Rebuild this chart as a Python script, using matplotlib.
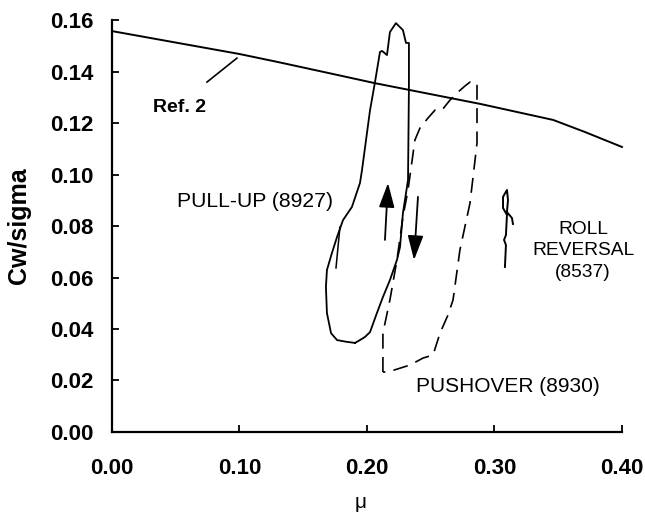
import numpy as np
import matplotlib
matplotlib.use("Agg")
from matplotlib import pyplot as plt

plt.rcParams['font.family'] = ['Liberation Sans', 'DejaVu Sans']

# Ref. 2 boundary
ref_mu = [0.0, 0.10, 0.13, 0.17, 0.206, 0.289, 0.346, 0.371, 0.40]
ref_cw = [0.1557, 0.1468, 0.1437, 0.1394, 0.1355, 0.1274, 0.1212, 0.1165, 0.1107]

# pull-up (8927), solid loop
pull_mu = [0.1906, 0.1843, 0.1765, 0.1718, 0.1686, 0.1678, 0.1686, 0.1725, 0.1765,
           0.1812, 0.1882, 0.1945, 0.1961, 0.2024, 0.2063, 0.2102, 0.2118, 0.2157,
           0.2180, 0.2227, 0.2282, 0.2306, 0.2329, 0.2329, 0.2322, 0.2282, 0.2259,
           0.2235, 0.2180, 0.2125, 0.2078, 0.2024, 0.1984, 0.1945, 0.1906]
pull_cw = [0.0346, 0.0350, 0.0357, 0.0384, 0.0462, 0.0563, 0.0629, 0.0695, 0.0757,
           0.0823, 0.0874, 0.0967, 0.1017, 0.1250, 0.1359, 0.1476, 0.1480, 0.1464,
           0.1553, 0.1588, 0.1561, 0.1511, 0.1511, 0.1340, 0.0979, 0.0850, 0.0718,
           0.0668, 0.0590, 0.0524, 0.0462, 0.0388, 0.0369, 0.0357, 0.0346]
pull_tail_mu = [0.1788, 0.1757]
pull_tail_cw = [0.0796, 0.0637]

# pushover (8930), dashed loop
push_mu = [0.2125, 0.2125, 0.2180, 0.2235, 0.2282, 0.2322, 0.2376, 0.2416, 0.2478,
           0.2533, 0.2588, 0.2651, 0.2714, 0.2769, 0.2808, 0.2863, 0.2863, 0.2808,
           0.2729, 0.2675, 0.2635, 0.2573, 0.2518, 0.2439, 0.2337, 0.2165, 0.2125]
push_cw = [0.0233, 0.0384, 0.0513, 0.0668, 0.0835, 0.0940, 0.1134, 0.1181, 0.1219,
           0.1250, 0.1250, 0.1289, 0.1320, 0.1344, 0.1359, 0.1355, 0.1122, 0.0889,
           0.0707, 0.0513, 0.0454, 0.0384, 0.0299, 0.0287, 0.0260, 0.0233, 0.0233]

# roll reversal (8537)
roll_mu = [0.3082, 0.3090, 0.3075, 0.3090, 0.3098, 0.3067, 0.3067, 0.3098, 0.3106,
           0.3098, 0.3137, 0.3145]
roll_cw = [0.0641, 0.0726, 0.0746, 0.0765, 0.0843, 0.0870, 0.0913, 0.0940, 0.0901,
           0.0854, 0.0831, 0.0808]

x_ticks = [0.0, 0.1, 0.2, 0.3, 0.4]
y_ticks = [0.0, 0.02, 0.04, 0.06, 0.08, 0.10, 0.12, 0.14, 0.16]

fig = plt.figure(figsize=(6.45, 5.16), dpi=100)
ax = fig.add_axes([0.1736, 0.1628, 0.7907, 0.7984])

ax.plot(ref_mu, ref_cw, color='black', lw=1.4, clip_on=False)
ax.plot(pull_mu, pull_cw, color='black', lw=1.3)
ax.plot(pull_tail_mu, pull_tail_cw, color='black', lw=1.1)
ax.plot(push_mu, push_cw, color='black', lw=1.2, dashes=(9, 5))
ax.plot(roll_mu, roll_cw, color='black', lw=1.4)

# direction arrows
arrow = dict(arrowstyle='-|>,head_length=0.75,head_width=0.24', color='black',
             lw=1.3, mutation_scale=20, shrinkA=0, shrinkB=0)
ax.annotate('', xy=(0.2165, 0.0967), xytext=(0.2141, 0.0746), arrowprops=arrow)
ax.annotate('', xy=(0.2369, 0.0668), xytext=(0.2400, 0.0913), arrowprops=arrow)

# labels
ax.plot([0.0745, 0.0980], [0.1359, 0.1452], color='black', lw=1.2)
ax.text(0.0533, 0.1262, 'Ref. 2', fontsize=14, fontweight='bold',
        ha='center', va='center')
ax.text(0.1122, 0.0897, 'PULL-UP (8927)', fontsize=15.2, ha='center', va='center')
ax.text(0.3694, 0.0703, 'ROLL\nREVERSAL\n(8537)', fontsize=13.8, ha='center',
        va='center', multialignment='center', linespacing=1.35)
ax.text(0.3106, 0.0175, 'PUSHOVER (8930)', fontsize=15, ha='center', va='center')

ax.set_xlim(0, 0.4)
ax.set_ylim(0, 0.16)
ax.set_xticks(x_ticks)
ax.set_yticks(y_ticks)
ax.set_xticklabels(['%.2f' % v for v in x_ticks])
ax.set_yticklabels(['%.2f' % v for v in y_ticks])
for lab in ax.get_xticklabels() + ax.get_yticklabels():
    lab.set_fontweight('bold')
    lab.set_fontsize(16)
ax.tick_params(axis='both', direction='in', length=5, width=1.3)
ax.tick_params(axis='x', pad=19)
ax.tick_params(axis='y', pad=13)

for side in ['top', 'right']:
    ax.spines[side].set_visible(False)
for side in ['left', 'bottom']:
    ax.spines[side].set_linewidth(1.6)

ax.set_ylabel('Cw/sigma', fontsize=18, fontweight='bold', va='center')
ax.yaxis.set_label_coords(-0.182, 0.5)
ax.set_xlabel('μ', fontsize=15, va='center')
ax.xaxis.set_label_coords(0.488, -0.172)

fig.savefig('out.png', dpi=100)
